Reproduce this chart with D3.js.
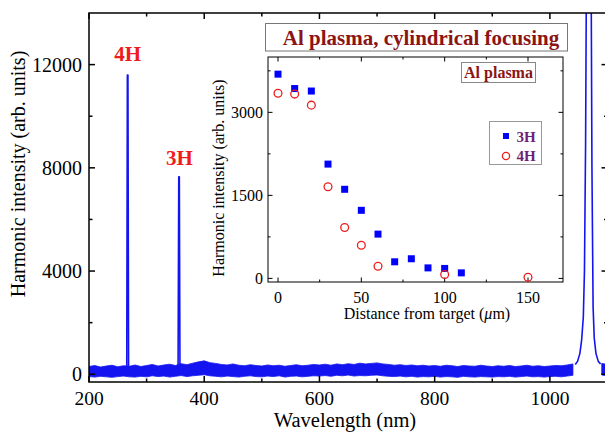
<!DOCTYPE html>
<html lang="en">
<head>
<meta charset="utf-8">
<script src="https://d3js.org/d3.v7.min.js"></script>
<style>
  body { margin: 0; background: #fff; }
  svg { display: block; font-family: "Liberation Serif", "Times New Roman", serif; }
</style>
</head>
<body>
<svg id="chart" width="605" height="433"></svg>
<script>
// ---- main spectrum data ----
// baseline noise band, 10 nm steps from 200 to 1100 (null = gap under the laser line)
const bandStart = 200, bandStep = 10;
const bandUpper = [
  300, 340, 280, 320, 350, 290, 330, 310, 360, 300,
  340, 380, 320, 360, 390, 340, 410, 370, 430, 480,
  520, 450, 420, 380, 360, 400, 350, 330, 370, 340,
  320, 360, 330, 350, 310, 340, 370, 330, 350, 380,
  360, 390, 350, 400, 370, 410, 380, 430, 400, 420,
  440, 400, 380, 350, 370, 340, 360, 330, 350, 320,
  340, 310, 350, 330, 300, 340, 320, 310, 350, 320,
  300, 330, 310, 340, 300, 320, 350, 310, 330, 300,
  320, 340, 330, 360, 400, null, null, null, null, 420,
  380
];
const bandLower = [
  -90, -110, -80, -100, -120, -90, -70, -100, -110, -80,
  -100, -60, -90, -70, -110, -80, -50, -90, -60, -40,
  -20, -60, -80, -100, -70, -90, -110, -80, -60, -90,
  -100, -70, -90, -60, -110, -80, -70, -100, -80, -60,
  -70, -50, -80, -40, -60, -30, -70, -50, -60, -40,
  -30, -60, -80, -90, -70, -100, -80, -110, -90, -100,
  -80, -110, -90, -100, -120, -80, -100, -110, -90, -100,
  -110, -90, -100, -80, -110, -90, -70, -100, -90, -110,
  -90, -80, -100, -70, -40, null, null, null, null, -30,
  -60
];
// harmonic lines (nm, intensity)
const peak4H = [[265.5, 150], [266.6, 11600], [267.6, 11600], [268.7, 150]];
const peak3H = [[354.6, 150], [355.8, 7650], [356.8, 7650], [357.9, 150]];
// laser fundamental line (goes far off scale)
const peakLaser = [
  [1044, 380], [1048, 500], [1052, 800], [1055, 1300], [1058, 2200], [1060, 4000],
  [1062, 9000], [1063.5, 16000], [1066, 30000], [1069, 30000], [1071.5, 16000],
  [1073, 8000], [1075, 2600], [1077, 1400], [1080, 800], [1084, 500], [1088, 400]
];
const mainXTicks = [200, 400, 600, 800, 1000];
const mainYTicks = [0, 4000, 8000, 12000];

// ---- inset data ----
const distance3H = [0, 10, 20, 30, 40, 50, 60, 70, 80, 90, 100, 110];
const intensity3H = [3690, 3430, 3385, 2065, 1610, 1230, 800, 300, 355, 190, 180, 100];
const distance4H = [0, 10, 20, 30, 40, 50, 60, 100, 150];
const intensity4H = [3345, 3330, 3130, 1655, 920, 600, 220, 70, 20];
const insetXTicks = [0, 50, 100, 150];
const insetYTicks = [0, 1500, 3000];

const blue = "#1414f0", red = "#ee1c1c", darkRed = "#8b1414", purple = "#6e1f78";

const svg = d3.select("#chart");

// ================= main chart =================
const m = {left: 89, right: 607.5, top: 13, bottom: 382};
const x = d3.scaleLinear().domain([200, 1100]).range([m.left, m.right]);
const y = d3.scaleLinear().domain([-300, 14000]).range([m.bottom, m.top]);

svg.append("clipPath").attr("id", "clipMain")
  .append("rect").attr("x", m.left).attr("y", m.top)
  .attr("width", m.right - m.left).attr("height", m.bottom - m.top);

const plot = svg.append("g").attr("clip-path", "url(#clipMain)");

const bandData = bandUpper.map((u, i) => ({w: bandStart + i * bandStep, hi: u, lo: bandLower[i]}));
plot.append("path")
  .datum(bandData)
  .attr("fill", blue).attr("stroke", blue).attr("stroke-width", 0.8)
  .attr("d", d3.area()
    .defined(d => d.hi !== null)
    .x(d => x(d.w)).y0(d => y(d.lo)).y1(d => y(d.hi)));

const line = d3.line().x(d => x(d[0])).y(d => y(d[1]));
[peak4H, peak3H, peakLaser].forEach(p => {
  plot.append("path").datum(p)
    .attr("fill", "none").attr("stroke", blue).attr("stroke-width", 1.6)
    .attr("stroke-linejoin", "round")
    .attr("d", line);
});

// axes, ticks inward on all four sides
function frameAxes(g, xs, ys, xMajor, xMinor, yMajor, yMinor, big, small, width) {
  const [x0, x1] = xs.range(), [y0, y1] = ys.range();
  const ax = g.append("g").attr("stroke", "#000").attr("stroke-width", width);
  ax.append("rect").attr("x", x0).attr("y", y1).attr("width", x1 - x0).attr("height", y0 - y1)
    .attr("fill", "none");
  const tick = (v, len, horiz) => {
    if (horiz) {
      ax.append("line").attr("x1", xs(v)).attr("x2", xs(v)).attr("y1", y0).attr("y2", y0 - len);
      ax.append("line").attr("x1", xs(v)).attr("x2", xs(v)).attr("y1", y1).attr("y2", y1 + len);
    } else {
      ax.append("line").attr("y1", ys(v)).attr("y2", ys(v)).attr("x1", x0).attr("x2", x0 + len);
      ax.append("line").attr("y1", ys(v)).attr("y2", ys(v)).attr("x1", x1).attr("x2", x1 - len);
    }
  };
  xMajor.forEach(v => tick(v, big, true));
  xMinor.forEach(v => tick(v, small, true));
  yMajor.forEach(v => tick(v, big, false));
  yMinor.forEach(v => tick(v, small, false));
}

frameAxes(svg, x, y, mainXTicks, [300, 500, 700, 900, 1100], mainYTicks, [2000, 6000, 10000],
  6, 3.5, 1.5);

svg.append("g").selectAll("text").data(mainXTicks).join("text")
  .attr("x", d => x(d)).attr("y", 405).attr("text-anchor", "middle")
  .attr("font-size", 19.5).text(d => d);
svg.append("g").selectAll("text").data(mainYTicks).join("text")
  .attr("x", 82).attr("y", d => y(d) + 7).attr("text-anchor", "end")
  .attr("font-size", 20).text(d => d);

svg.append("text").attr("x", 345).attr("y", 427).attr("text-anchor", "middle")
  .attr("font-size", 20.5).text("Wavelength (nm)");
svg.append("text").attr("transform", "translate(25,174) rotate(-90)").attr("text-anchor", "middle")
  .attr("font-size", 20).text("Harmonic intensity (arb. units)");

svg.append("text").attr("x", x(267)).attr("y", 61).attr("text-anchor", "middle")
  .attr("font-size", 21).attr("font-weight", "bold").attr("fill", red).text("4H");
svg.append("text").attr("x", x(357)).attr("y", 165).attr("text-anchor", "middle")
  .attr("font-size", 21).attr("font-weight", "bold").attr("fill", red).text("3H");

// ================= inset =================
svg.append("rect").attr("x", 265.5).attr("y", 23.5).attr("width", 302).attr("height", 27.5)
  .attr("fill", "#fff").attr("stroke", "#777").attr("stroke-width", 1);
svg.append("text").attr("x", 421).attr("y", 45).attr("text-anchor", "middle")
  .attr("font-size", 21).attr("font-weight", "bold").attr("fill", darkRed)
  .text("Al plasma, cylindrical focusing");

const ix = d3.scaleLinear().domain([-6, 171]).range([268, 563]);
const iy = d3.scaleLinear().domain([-65, 4000]).range([282, 57]);

svg.append("rect").attr("x", 268).attr("y", 57).attr("width", 295).attr("height", 225)
  .attr("fill", "#fff");
frameAxes(svg, ix, iy, insetXTicks, [25, 75, 125], insetYTicks, [750, 2250, 3750], 4.5, 2.5, 1);

svg.append("g").selectAll("text").data(insetXTicks).join("text")
  .attr("x", d => ix(d)).attr("y", 303).attr("text-anchor", "middle")
  .attr("font-size", 16).text(d => d);
svg.append("g").selectAll("text").data(insetYTicks).join("text")
  .attr("x", 263).attr("y", d => iy(d) + 5.5).attr("text-anchor", "end")
  .attr("font-size", 16).text(d => d);

const xl = svg.append("text").attr("x", 427).attr("y", 319).attr("text-anchor", "middle")
  .attr("font-size", 16);
xl.append("tspan").text("Distance from target (");
xl.append("tspan").attr("font-style", "italic").text("\u03bc");
xl.append("tspan").text("m)");
svg.append("text").attr("transform", "translate(224,178) rotate(-90)").attr("text-anchor", "middle")
  .attr("font-size", 16).text("Harmonic intensity (arb. units)");

svg.append("g").selectAll("rect").data(distance3H).join("rect")
  .attr("x", d => ix(d) - 3.5).attr("y", (d, i) => iy(intensity3H[i]) - 3.5)
  .attr("width", 7).attr("height", 7).attr("fill", "#0000ff");
svg.append("g").selectAll("circle").data(distance4H).join("circle")
  .attr("cx", d => ix(d)).attr("cy", (d, i) => iy(intensity4H[i])).attr("r", 3.9)
  .attr("fill", "none").attr("stroke", red).attr("stroke-width", 1.3);

// small "Al plasma" tag
svg.append("rect").attr("x", 461.5).attr("y", 62.5).attr("width", 74).attr("height", 20)
  .attr("fill", "#fff").attr("stroke", "#888");
svg.append("text").attr("x", 498.5).attr("y", 78).attr("text-anchor", "middle")
  .attr("font-size", 16).attr("font-weight", "bold").attr("fill", darkRed).text("Al plasma");

// legend
const leg = svg.append("g");
leg.append("rect").attr("x", 489.5).attr("y", 121.5).attr("width", 52).attr("height", 43)
  .attr("fill", "#fff").attr("stroke", "#999");
leg.append("rect").attr("x", 503).attr("y", 133).attr("width", 6).attr("height", 6).attr("fill", "#0000ff");
leg.append("circle").attr("cx", 506).attr("cy", 156).attr("r", 3.6)
  .attr("fill", "none").attr("stroke", red).attr("stroke-width", 1.3);
leg.append("text").attr("x", 516.5).attr("y", 141.5).attr("font-size", 15).attr("font-weight", "bold")
  .attr("fill", purple).text("3H");
leg.append("text").attr("x", 516.5).attr("y", 161).attr("font-size", 15).attr("font-weight", "bold")
  .attr("fill", purple).text("4H");
</script>
</body>
</html>
